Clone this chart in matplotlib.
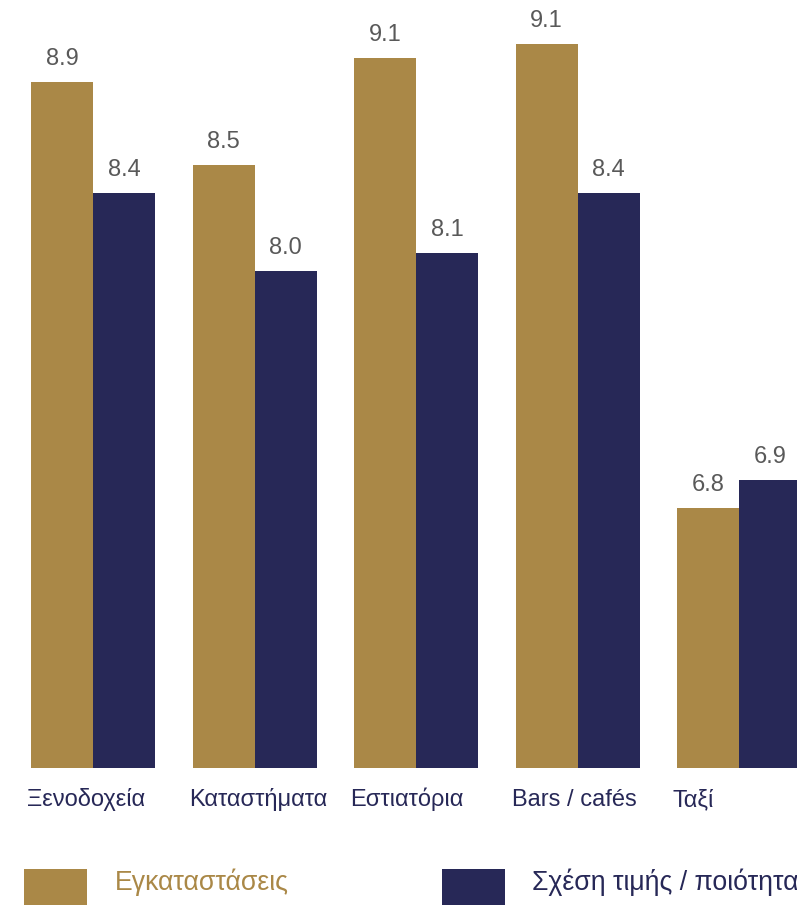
import matplotlib
matplotlib.use("Agg")
import matplotlib.pyplot as plt
from matplotlib.patches import Rectangle
import numpy as np

categories = ["Ξενοδοχεία", "Καταστήματα", "Εστιατόρια", "Bars / cafés", "Ταξί"]
facilities = [8.94, 8.52, 9.06, 9.13, 6.80]
value_for_money = [8.38, 7.99, 8.08, 8.38, 6.94]
series_names = ["Εγκαταστάσεις", "Σχέση τιμής / ποιότητα"]

GOLD = "#AA8847"
NAVY = "#272857"
GRAY = "#595959"

plt.rcParams['font.family'] = ['Liberation Sans', 'DejaVu Sans']

W, H = 797, 905
fig = plt.figure(figsize=(W / 100, H / 100), dpi=100)

ax_bottom_px = 768.3
ax = fig.add_axes([0, (H - ax_bottom_px) / H, 1, ax_bottom_px / H])

pitch = 161.4
bw = 62 / pitch
x = np.arange(len(categories))
ax.bar(x - bw / 2, facilities, width=bw, color=GOLD, bottom=0)
ax.bar(x + bw / 2, value_for_money, width=bw, color=NAVY, bottom=0)

ymin = 5.49
px_per_unit = 199.0
ax.set_ylim(ymin, ymin + ax_bottom_px / px_per_unit)
ax.set_xlim(-93.3 / pitch, (W - 93.3) / pitch)
ax.axis("off")

for xi, v in zip(x, facilities):
    ax.annotate(f"{v:.1f}", (xi - bw / 2, v), xytext=(0, 12), textcoords="offset pixels",
                ha="center", va="bottom", fontsize=17, color=GRAY)
for xi, v in zip(x, value_for_money):
    ax.annotate(f"{v:.1f}", (xi + bw / 2, v), xytext=(0, 12), textcoords="offset pixels",
                ha="center", va="bottom", fontsize=17, color=GRAY)

for xi, c in zip(x, categories):
    ax.annotate(c, (xi - bw, ymin), xytext=(-4, -38), textcoords="offset pixels",
                ha="left", va="baseline", fontsize=17.0, color=NAVY, annotation_clip=False)

# legend
def fx(px):
    return px / W

def fy(py):
    return 1 - py / H

fig.add_artist(Rectangle((fx(24), fy(905)), fx(87) - fx(24), (905 - 869) / H,
                         transform=fig.transFigure, color=GOLD, lw=0))
fig.add_artist(Rectangle((fx(441.7), fy(905)), fx(505) - fx(441.7), (905 - 869) / H,
                         transform=fig.transFigure, color=NAVY, lw=0))
fig.text(fx(115), fy(890), series_names[0], ha="left", va="baseline", fontsize=19.2, color=GOLD)
fig.text(fx(532), fy(890), series_names[1], ha="left", va="baseline", fontsize=19.2, color=NAVY)

fig.savefig("out.png", dpi=100)
